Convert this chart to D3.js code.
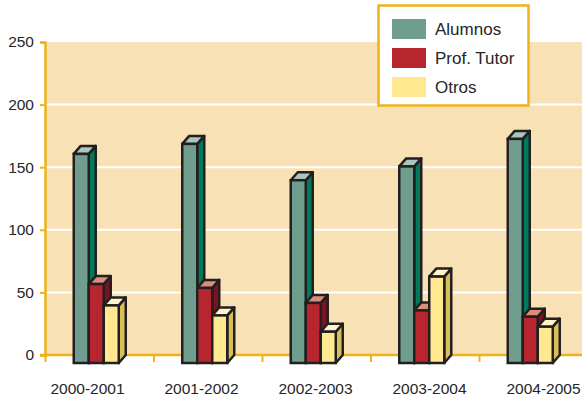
<!DOCTYPE html>
<html>
<head>
<meta charset="utf-8">
<script src="https://cdn.jsdelivr.net/npm/d3@7"></script>
<style>
  html, body { margin: 0; padding: 0; background: #ffffff; }
  svg { display: block; font-family: "Liberation Sans", Arial, Helvetica, sans-serif; }
</style>
</head>
<body>
<svg id="chart" width="582" height="401"></svg>
<script>
// Curso académico
const categories = ["2000-2001", "2001-2002", "2002-2003", "2003-2004", "2004-2005"];
// Series
const seriesNames = ["Alumnos", "Prof. Tutor", "Otros"];
const alumnos    = [167, 175, 146, 157, 179];
const profTutor  = [63, 60, 48, 42, 37];
const otros      = [46, 38, 25, 69, 29];
const yTicks     = [0, 50, 100, 150, 200, 250];

const seriesValues = [alumnos, profTutor, otros];

// Face colours per series: front, side, top
const palette = [
  { front: "#6f9e8e", side: "#007a5b", top: "#a9c7bd" },
  { front: "#b7262f", side: "#7b1322", top: "#db8e7e" },
  { front: "#ffe890", side: "#d8bf57", top: "#fff5c9" }
];

const svg = d3.select("#chart");
const plot = { left: 45, right: 582, top: 42, bottom: 355 };
const depth = { dx: 7, dy: 8 };
const barW = 15;

const y = d3.scaleLinear().domain([0, 250]).range([plot.bottom, plot.top]);
const x0 = d3.scaleBand().domain(categories).range([45.5, 45.5 + 108.5 * categories.length]).padding(0);
const x1 = d3.scaleBand().domain(seriesNames).range([0, barW * seriesNames.length]).padding(0);
const xLabel = d3.scalePoint().domain(categories).range([87.5, 543.5]);

// Back wall
svg.append("rect")
  .attr("x", plot.left).attr("y", plot.top)
  .attr("width", plot.right - plot.left).attr("height", plot.bottom - plot.top)
  .attr("fill", "#f8e1b5");

// Gridlines
svg.append("g").selectAll("line")
  .data(yTicks.filter(t => t > 0 && t < 250))
  .join("line")
  .attr("x1", plot.left).attr("x2", plot.right)
  .attr("y1", d => y(d)).attr("y2", d => y(d))
  .attr("stroke", "#ffffff").attr("stroke-width", 2);

// Y axis
const yAxis = d3.axisLeft(y).tickValues(yTicks).tickSize(5).tickPadding(6);
const gy = svg.append("g").attr("transform", `translate(${plot.left},0)`).call(yAxis);
gy.select(".domain").attr("stroke", "#f0b21c").attr("stroke-width", 2.5);
gy.selectAll(".tick line").attr("stroke", "#f0b21c").attr("stroke-width", 2);
gy.selectAll(".tick text")
  .attr("fill", "#262626").attr("font-size", 15.5)
  .attr("font-family", "Liberation Sans, Arial, sans-serif");

// X axis line with ticks at category boundaries
svg.append("line")
  .attr("x1", plot.left - 5).attr("x2", plot.right)
  .attr("y1", plot.bottom).attr("y2", plot.bottom)
  .attr("stroke", "#f0b21c").attr("stroke-width", 2.5);
svg.append("g").selectAll("line")
  .data(categories)
  .join("line")
  .attr("x1", d => x0(d)).attr("x2", d => x0(d))
  .attr("y1", plot.bottom).attr("y2", plot.bottom + 7)
  .attr("stroke", "#f0b21c").attr("stroke-width", 2);

// Category labels
svg.append("g").selectAll("text")
  .data(categories)
  .join("text")
  .attr("x", d => xLabel(d))
  .attr("y", 394)
  .attr("text-anchor", "middle")
  .attr("font-size", 15.5)
  .attr("fill", "#262626")
  .text(d => d);

// 3D columns
const clusterW = barW * seriesNames.length + depth.dx;
const bars = svg.append("g");
categories.forEach((cat, ci) => {
  const g = bars.append("g");
  seriesNames.forEach((name, si) => {
    const v = seriesValues[si][ci];
    const c = palette[si];
    const xf = x0(cat) + (x0.bandwidth() - clusterW) / 2 + x1(name);
    const xr = xf + barW;
    const yTopFront = y(v) + depth.dy;
    const yBotFront = y(0) + depth.dy;
    const dx = depth.dx, dy = depth.dy;
    const stroke = "#231f20", sw = 2.5;
    // side
    g.append("polygon")
      .attr("points", [[xr, yTopFront], [xr + dx, yTopFront - dy], [xr + dx, yBotFront - dy], [xr, yBotFront]].join(" "))
      .attr("fill", c.side).attr("stroke", stroke).attr("stroke-width", sw).attr("stroke-linejoin", "round");
    // top
    g.append("polygon")
      .attr("points", [[xf, yTopFront], [xf + dx, yTopFront - dy], [xr + dx, yTopFront - dy], [xr, yTopFront]].join(" "))
      .attr("fill", c.top).attr("stroke", stroke).attr("stroke-width", sw).attr("stroke-linejoin", "round");
    // front
    g.append("rect")
      .attr("x", xf).attr("y", yTopFront)
      .attr("width", barW).attr("height", yBotFront - yTopFront)
      .attr("fill", c.front).attr("stroke", stroke).attr("stroke-width", sw);
  });
});

// Legend
const legend = svg.append("g");
legend.append("rect")
  .attr("x", 378.5).attr("y", 5.5).attr("width", 150).attr("height", 100)
  .attr("fill", "#ffffff").attr("stroke", "#f0b21c").attr("stroke-width", 2.5);
const legendY = d3.scalePoint().domain(seriesNames).range([29, 87]);
seriesNames.forEach((name, si) => {
  legend.append("rect")
    .attr("x", 392).attr("y", legendY(name) - 10)
    .attr("width", 34).attr("height", 20)
    .attr("fill", palette[si].front);
  legend.append("text")
    .attr("x", 435).attr("y", legendY(name))
    .attr("dy", "0.35em")
    .attr("font-size", 17)
    .attr("fill", "#262626")
    .text(name);
});
</script>
</body>
</html>
